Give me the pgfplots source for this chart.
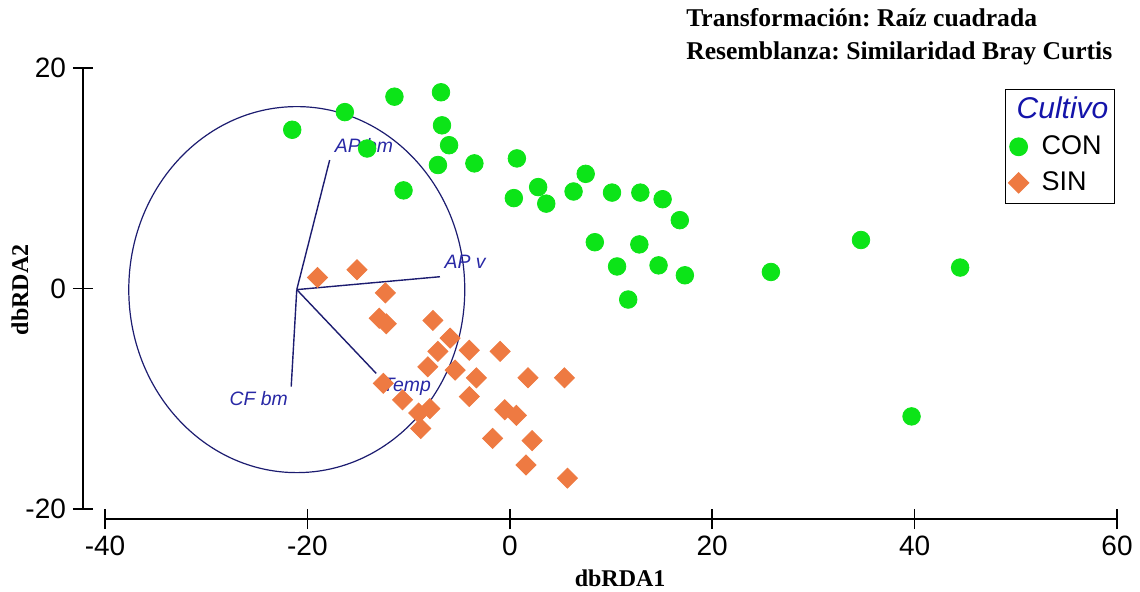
\documentclass[border=0pt]{standalone}
\usepackage{fontspec}
\setmainfont{Liberation Sans}
\newfontfamily\serifbf{Liberation Serif}
\usepackage{pgfplots}
\pgfplotsset{compat=1.18}
\usetikzlibrary{calc}
\definecolor{congreen}{RGB}{12,228,24}
\definecolor{sinorange}{RGB}{238,122,66}
\definecolor{navy}{RGB}{28,28,112}
\definecolor{lblblue}{RGB}{40,40,165}
\definecolor{ttlblue}{RGB}{20,20,170}
\pgfplotsset{mylegimg/.style={legend image code/.code={\draw[mark repeat=2,mark phase=2,##1] plot coordinates {(0cm,0cm) (0.15cm,0cm) (0.3cm,0cm)};}}}
\frenchspacing
\begin{document}
\begin{tikzpicture}
\begin{axis}[
  scale only axis,
  width=506pt, height=220.5pt,
  xmin=-40, xmax=60, ymin=-20, ymax=20,
  axis x line*=bottom, axis y line*=left,
  axis x line shift=5pt, axis y line shift=11pt,
  axis line style={black, line width=0.75pt},
  xtick={-40,-20,...,60}, ytick={-20,0,20},
  tick align=center, major tick length=10pt,
  tick style={black, line width=0.75pt},
  /pgf/number format/assume math mode=true,
  tick label style={font=\fontsize{14}{16}\selectfont},
  xlabel={\serifbf\bfseries dbRDA1},
  ylabel={\serifbf\bfseries dbRDA2},
  xlabel style={at={(axis description cs:0.509,-0.156)}, anchor=center, font=\fontsize{12}{14}\selectfont},
  ylabel style={at={(axis description cs:-0.084,0.497)}, anchor=center, rotate=0, font=\fontsize{12}{14}\selectfont},
  clip=false,
  legend style={at={(0.998,0.952)}, anchor=north east, draw=black, line width=0.6pt, fill=white,
    inner sep=1.5pt, column sep=5pt, row sep=0pt,
    font=\fontsize{13.5}{16}\selectfont,
    nodes={text height=11.5pt, text depth=3.5pt, inner ysep=1.5pt, inner xsep=1.5pt}},
  legend cell align=left,
]
\addlegendimage{empty legend}
\addlegendentry{\hspace*{-12.5pt}\fontsize{15}{16}\selectfont\color{ttlblue}\itshape Cultivo}
\addplot[only marks, mark=*, mark size=4.4pt, color=congreen, mark options={draw=congreen, fill=congreen}, mylegimg]
  table {
x y
-21.5 14.4
-16.3 16.0
-11.4 17.4
-14.1 12.7
-10.5 8.9
-6.8 17.8
-6.7 14.8
-6.0 13.0
-7.1 11.2
-3.5 11.35
0.7 11.8
0.4 8.2
2.8 9.2
3.6 7.7
6.3 8.8
7.5 10.4
10.1 8.7
12.9 8.7
15.1 8.1
16.8 6.2
8.4 4.2
12.8 4.0
10.6 2.0
14.7 2.1
17.3 1.2
11.7 -1.0
25.8 1.5
34.7 4.4
44.5 1.9
39.7 -11.6
};
\addlegendentry{CON}
\addplot[only marks, mark=square*, mark size=3.55pt, color=sinorange, mark options={rotate=45, draw=sinorange, fill=sinorange}, mylegimg]
  table {
x y
-19.0 1.0
-15.1 1.7
-12.3 -0.4
-12.9 -2.7
-12.2 -3.2
-7.6 -2.9
-5.9 -4.5
-7.1 -5.7
-4.0 -5.6
-0.95 -5.7
-8.1 -7.1
-5.4 -7.4
-3.3 -8.1
1.8 -8.1
5.4 -8.1
-12.5 -8.6
-4.0 -9.8
-10.6 -10.1
-9.0 -11.3
-7.9 -10.9
-8.8 -12.7
-0.5 -11.0
0.65 -11.5
-1.7 -13.6
2.2 -13.8
1.6 -16.0
5.7 -17.2
};
\addlegendentry{SIN}
% correlation circle and vectors
\draw[navy, line width=0.6pt] (axis cs:-21.05,-0.1) ellipse [x radius=16.6, y radius=16.6];
\draw[navy, line width=0.7pt] (axis cs:-21.05,-0.1) -- (axis cs:-17.8,11.65);
\draw[navy, line width=0.7pt] (axis cs:-21.05,-0.1) -- (axis cs:-6.9,1.07);
\draw[navy, line width=0.7pt] (axis cs:-21.05,-0.1) -- (axis cs:-13.2,-7.7);
\draw[navy, line width=0.7pt] (axis cs:-21.05,-0.1) -- (axis cs:-21.6,-8.9);
\node[anchor=west, inner sep=0pt, text=lblblue, font=\fontsize{9.7}{11}\selectfont\itshape] at (axis cs:-17.33,13.0) {AP bm};
\node[anchor=west, inner sep=0pt, text=lblblue, font=\fontsize{9.7}{11}\selectfont\itshape] at (axis cs:-6.48,2.4) {AP v};
\node[anchor=west, inner sep=0pt, text=lblblue, font=\fontsize{9.7}{11}\selectfont\itshape] at (axis cs:-12.57,-8.88) {Temp};
\node[anchor=east, inner sep=0pt, text=lblblue, font=\fontsize{9.7}{11}\selectfont\itshape] at (axis cs:-21.9,-10.0) {CF bm};
\node[anchor=north west, inner sep=0pt, align=left, font=\fontsize{12.8}{16.5}\selectfont\serifbf\bfseries]
  at (rel axis cs:0.574,1.136) {Transformación: Raíz cuadrada\\Resemblanza: Similaridad Bray Curtis};
\coordinate (O) at (axis cs:-40,-20);
\end{axis}
\pgfresetboundingbox
\path[use as bounding box] ($(O)+(-52.5pt,-41pt)$) rectangle ($(O)+(517.5pt,254.5pt)$);
\end{tikzpicture}
\end{document}
